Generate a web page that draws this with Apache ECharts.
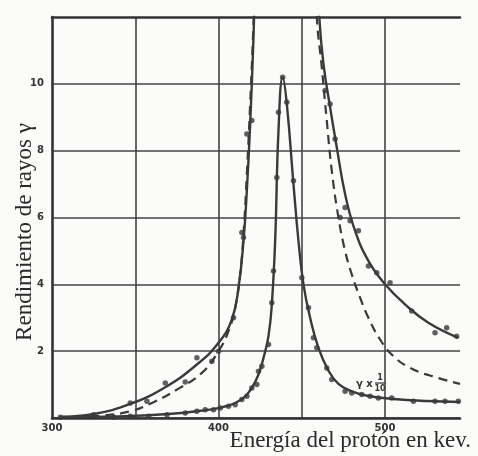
<!DOCTYPE html>
<html>
<head>
<meta charset="utf-8">
<script src="https://cdn.jsdelivr.net/npm/echarts@6/dist/echarts.min.js"></script>
<style>
  html, body { margin: 0; padding: 0; background: #fbfbf9; }
  #main { width: 478px; height: 456px; }
</style>
</head>
<body>
<div id="main"></div>
<script>
// curva estrecha (gamma x 1/10): trazo y puntos medidos
var narrowCurve = [[305, 0.03], [340, 0.05], [370, 0.12], [390, 0.22], [402, 0.32], [410, 0.45], [416, 0.65],
    [420, 0.9], [424, 1.3], [427, 1.8], [430, 2.45], [432, 3.4], [434, 5.3], [436, 8.6], [438.5, 10.2],
    [441, 9.4], [445, 7.0], [448, 5.3], [451, 4.0], [455, 3.0], [460, 2.1], [466, 1.42], [472, 1.02],
    [480, 0.8], [490, 0.66], [505, 0.57], [525, 0.51], [545, 0.48]];
var narrowDots = [[305, 0.02], [337, 0.02], [347, 0.05], [358, 0.05], [369, 0.1], [380, 0.15], [387, 0.2],
    [392, 0.25], [397, 0.25], [401, 0.3], [406, 0.35], [410, 0.4], [414, 0.55], [417, 0.65], [420, 0.9],
    [423, 1.0], [424, 1.4], [426, 1.55], [430, 2.2], [432, 3.45], [433, 4.4], [435, 7.2], [436, 9.15],
    [438.5, 10.2], [441, 9.45], [445, 7.1], [450, 4.2], [454, 3.3], [457, 2.4], [459, 2.1], [465, 1.5],
    [468, 1.15], [476, 0.8], [480, 0.75], [486, 0.7], [491, 0.65], [496, 0.6], [504, 0.6], [517, 0.5],
    [530, 0.5], [536, 0.5], [544, 0.5]];

// curva ancha (fuera de escala arriba)
var wideCurve = [[305, 0.03], [325, 0.12], [347, 0.42], [368, 0.92], [387, 1.6], [400, 2.25], [408, 2.95],
    [412, 3.9], [415, 5.3], [417, 6.8], [419, 8.8], [421, 11.4], [423, 14.5], [441, 18], [458.5, 14.5],
    [460.5, 12], [463, 10.6], [467, 9.3], [471, 8.1], [476, 6.7], [482, 5.6], [490, 4.7], [500, 4.0],
    [512, 3.4], [526, 2.85], [544, 2.4]];
var wideDots = [[325, 0.1], [347, 0.45], [357, 0.5], [368, 1.05], [380, 1.08], [387, 1.8], [396, 1.7],
    [400, 2.0], [409, 3.0], [414, 5.55], [415, 5.4], [417, 8.5], [420, 8.9],
    [464, 9.8], [467, 9.4], [470, 8.35], [473, 6.0], [476, 6.3], [479, 5.9], [484, 5.6], [490, 4.55],
    [495, 4.35], [503, 4.05], [516, 3.2], [530, 2.55], [537, 2.7], [543, 2.45]];

// curva teorica (trazos)
var dashedCurve = [[305, 0.02], [329, 0.07], [347, 0.2], [360, 0.45], [375, 0.85], [390, 1.35], [400, 2.0],
    [406, 2.6], [410, 3.3], [413, 4.3], [415, 5.5], [417, 7.3], [419, 9.4], [421, 11.8], [423, 14.5],
    [440, 18], [457.5, 14.5], [459, 12], [462, 10.5], [465, 8.9], [468, 7.4], [472, 6.0], [476, 5.0],
    [480, 4.3], [485, 3.6], [490, 3.0], [497, 2.35], [505, 1.85], [515, 1.5], [527, 1.27], [545, 1.02]];

var xLabels = [300, 400, 500];
var yLabels = [2, 4, 6, 8, 10];

var ink = '#3a3a3a';
var myChart = echarts.init(document.getElementById('main'));

function lineSeries(data, dashed) {
    return {
        type: 'line',
        data: data,
        smooth: 0.45,
        showSymbol: false,
        clip: true,
        silent: true,
        lineStyle: {color: ink, width: dashed ? 2.2 : 2.4, type: dashed ? [9, 6] : 'solid'},
        z: 3
    };
}

function dotSeries(data) {
    return {
        type: 'scatter',
        data: data,
        symbol: 'circle',
        symbolSize: 5.5,
        itemStyle: {color: ink},
        clip: true,
        silent: true,
        z: 4
    };
}

myChart.setOption({
    backgroundColor: '#fbfbf9',
    animation: false,
    grid: {left: 52, right: 18, top: 17, bottom: 38},
    xAxis: [
        {
            type: 'value',
            min: 300,
            max: 545,
            interval: 50,
            axisLine: {show: true, lineStyle: {color: '#333', width: 2.6}},
            axisTick: {show: false},
            splitLine: {show: true, showMinLine: false, showMaxLine: false, lineStyle: {color: '#444', width: 1.6}},
            axisLabel: {
                margin: 5,
                color: '#333',
                fontFamily: 'DejaVu Sans',
                fontWeight: 'bold',
                fontSize: 10,
                formatter: function (v) {
                    return xLabels.indexOf(v) >= 0 ? String(v) : '';
                }
            }
        },
        {
            type: 'value',
            position: 'top',
            min: 300,
            max: 545,
            axisLine: {show: true, lineStyle: {color: '#333', width: 2.6}},
            axisTick: {show: false},
            axisLabel: {show: false},
            splitLine: {show: false}
        }
    ],
    yAxis: {
        type: 'value',
        min: 0,
        max: 12,
        interval: 2,
        axisLine: {show: true, lineStyle: {color: '#333', width: 2.6}},
        axisTick: {show: false},
        splitLine: {show: true, showMaxLine: false, lineStyle: {color: '#444', width: 1.6}},
        axisLabel: {
            margin: 8,
            color: '#333',
            fontFamily: 'DejaVu Sans',
            fontWeight: 'bold',
            fontSize: 10,
            formatter: function (v) {
                return yLabels.indexOf(v) >= 0 ? String(v) : '';
            }
        }
    },
    series: [
        lineSeries(wideCurve, false),
        lineSeries(dashedCurve, true),
        lineSeries(narrowCurve, false),
        dotSeries(wideDots),
        dotSeries(narrowDots)
    ],
    graphic: [
        {
            type: 'text',
            x: 25, y: 232,
            rotation: Math.PI / 2,
            style: {
                text: 'Rendimiento de rayos γ',
                fill: '#2a2a2a',
                font: '23px "Liberation Serif"',
                align: 'center',
                verticalAlign: 'middle'
            }
        },
        {
            type: 'text',
            x: 471, y: 441,
            style: {
                text: 'Energía del protón en kev.',
                fill: '#2a2a2a',
                font: '23px "Liberation Serif"',
                align: 'right',
                verticalAlign: 'middle'
            }
        },
        {
            type: 'group',
            x: 356, y: 384,
            children: [
                {type: 'text', x: 0, y: 0, style: {text: 'γ x', fill: '#333', font: 'bold 10px "DejaVu Sans"', verticalAlign: 'middle'}},
                {type: 'text', x: 24, y: -6, style: {text: '1', fill: '#333', font: 'bold 8px "DejaVu Sans"', align: 'center', verticalAlign: 'middle'}},
                {type: 'line', shape: {x1: 19, y1: -1, x2: 30, y2: -1}, style: {stroke: '#333', lineWidth: 1.2}},
                {type: 'text', x: 24, y: 5, style: {text: '10', fill: '#333', font: 'bold 8px "DejaVu Sans"', align: 'center', verticalAlign: 'middle'}}
            ]
        }
    ]
});
</script>
</body>
</html>
